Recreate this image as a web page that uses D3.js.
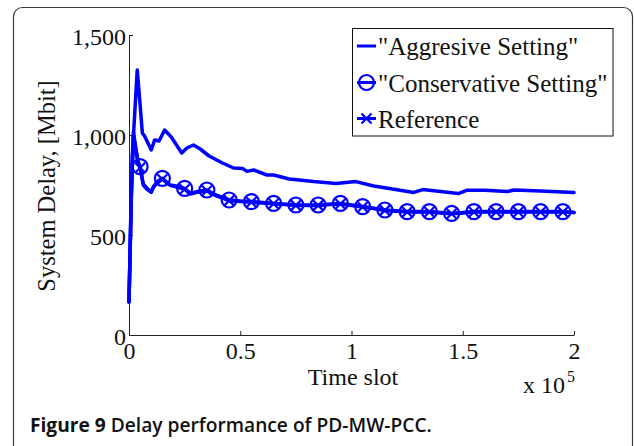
<!DOCTYPE html>
<html>
<head>
<meta charset="utf-8">
<script src="https://cdn.jsdelivr.net/npm/d3@7"></script>
<style>
  html, body { margin: 0; padding: 0; background: #fff; }
  svg { display: block; }
</style>
</head>
<body>
<svg id="chart" width="634" height="446"></svg>
<script>
// ---------- data ----------
const xTicks = [0, 50000, 100000, 150000, 200000];
const xTickLabels = ["0", "0.5", "1", "1.5", "2"];
const yTicks = [0, 500, 1000, 1500];
const yTickLabels = ["0", "500", "1,000", "1,500"];

const seriesNames = ["\"Aggresive Setting\"", "\"Conservative Setting\"", "Reference"];

const aggT = [0, 1500, 3700, 5000, 6000, 7000, 8500, 10000, 11500, 13500, 16000, 19000, 23700, 26000, 29000, 32000, 36000, 42000, 47000, 51000, 53000, 56000, 62000, 65000, 72000, 83000, 93000, 102000, 110000, 117000, 128000, 132000, 140000, 148000, 152000, 160000, 170000, 173000, 185000, 200000];
const aggV = [165, 900, 1325, 1150, 1010, 995, 960, 925, 975, 970, 1025, 990, 910, 935, 950, 930, 895, 860, 835, 833, 818, 825, 800, 800, 780, 767, 758, 767, 745, 733, 713, 727, 717, 707, 724, 724, 717, 725, 720, 713];

const consT = [0, 1000, 2000, 3000, 4000, 5000, 6400, 8000, 10000, 11000, 13000, 15000, 18500, 21000, 25000, 27500, 31000, 35000, 39000, 45000, 50000, 55000, 60000, 65000, 70000, 75000, 80000, 85000, 90000, 95000, 100000, 105000, 110000, 115000, 120000, 125000, 130000, 135000, 140000, 145000, 150000, 155000, 165000, 175000, 185000, 195000, 200000];
const consV = [165, 700, 1015, 940, 870, 842, 755, 735, 717, 742, 770, 783, 750, 745, 733, 708, 718, 725, 700, 675, 670, 667, 662, 658, 654, 650, 650, 650, 654, 658, 650, 642, 634, 625, 621, 617, 617, 617, 612, 608, 612, 617, 617, 617, 617, 617, 613];

const refT = consT;
const refV = [165, 680, 1000, 930, 860, 836, 750, 730, 713, 738, 765, 779, 748, 741, 729, 705, 715, 721, 697, 672, 668, 664, 660, 656, 652, 648, 648, 648, 652, 655, 648, 640, 632, 623, 619, 615, 615, 615, 610, 606, 610, 615, 615, 615, 615, 615, 612];

const markerT = [5000, 15000, 25000, 35000, 45000, 55000, 65000, 75000, 85000, 95000, 105000, 115000, 125000, 135000, 145000, 155000, 165000, 175000, 185000, 195000];

// ---------- layout ----------
const svg = d3.select("#chart");
const blue = "#0000ff";
const serif = "'Liberation Serif', 'Times New Roman', serif";

const x = d3.scaleLinear().domain([0, 200000]).range([129, 574]);
const y = d3.scaleLinear().domain([0, 1500]).range([335, 35]);

// outer frame
svg.append("rect")
  .attr("x", 13.5).attr("y", 7.5)
  .attr("width", 619).attr("height", 520)
  .attr("rx", 9).attr("ry", 9)
  .attr("fill", "none").attr("stroke", "#3a3a3a").attr("stroke-width", 1.2);

// axes
const yAxis = d3.axisLeft(y)
  .tickValues(yTicks)
  .tickFormat((d, i) => yTickLabels[i])
  .tickSize(-4).tickSizeOuter(0).tickPadding(3);
const gy = svg.append("g").attr("transform", "translate(129,0)").call(yAxis);

const xAxis = d3.axisBottom(x)
  .tickValues(xTicks)
  .tickFormat((d, i) => xTickLabels[i])
  .tickSize(-4).tickSizeOuter(0).tickPadding(7);
const gx = svg.append("g").attr("transform", "translate(0,335)").call(xAxis);

[gx, gy].forEach(g => {
  g.attr("font-family", serif).attr("font-size", 24);
  g.selectAll("path.domain").attr("stroke", "#222").attr("stroke-width", 1);
  g.selectAll(".tick line").attr("stroke", "#222").attr("stroke-width", 1);
  g.selectAll(".tick text").attr("fill", "#111");
});
gy.selectAll(".tick text").attr("dy", "0.4em");

// axis titles
svg.append("text")
  .attr("transform", "translate(55,186) rotate(-90)")
  .attr("text-anchor", "middle")
  .attr("font-family", serif).attr("font-size", 24.5).attr("fill", "#111")
  .text("System Delay, [Mbit]");

svg.append("text")
  .attr("x", 353).attr("y", 385)
  .attr("text-anchor", "middle")
  .attr("font-family", serif).attr("font-size", 24).attr("fill", "#111")
  .text("Time slot");

svg.append("text")
  .attr("x", 523).attr("y", 393)
  .attr("font-family", serif).attr("font-size", 24).attr("fill", "#111")
  .text("x 10");
svg.append("text")
  .attr("x", 567).attr("y", 382)
  .attr("font-family", serif).attr("font-size", 16).attr("fill", "#111")
  .text("5");

// lines
const line = d3.line().x(d => x(d[0])).y(d => y(d[1]));
const aggData = aggT.map((t, i) => [t, aggV[i]]);
const consData = consT.map((t, i) => [t, consV[i]]);
const refData = refT.map((t, i) => [t, refV[i]]);

const plot = svg.append("g");
[aggData, consData, refData].forEach(d => {
  plot.append("path").datum(d)
    .attr("d", line)
    .attr("fill", "none").attr("stroke", blue)
    .attr("stroke-width", 3.5).attr("stroke-linejoin", "round").attr("stroke-linecap", "round");
});

const R = 7.5, XS = 5;
function circleMarker(g, cx, cy) {
  g.append("circle").attr("cx", cx).attr("cy", cy).attr("r", R)
    .attr("fill", "none").attr("stroke", blue).attr("stroke-width", 2.2);
}
function xMarker(g, cx, cy) {
  g.append("path")
    .attr("d", `M${cx - XS},${cy - XS}L${cx + XS},${cy + XS}M${cx - XS},${cy + XS}L${cx + XS},${cy - XS}`)
    .attr("fill", "none").attr("stroke", blue).attr("stroke-width", 2.2);
}
markerT.forEach(t => {
  const ci = consT.indexOf(t);
  circleMarker(plot, x(t), y(consV[ci]));
  const ri = refT.indexOf(t);
  xMarker(plot, x(t), y(refV[ri]));
});

// legend
const lg = svg.append("g");
lg.append("rect")
  .attr("x", 352.5).attr("y", 28.5).attr("width", 260.5).attr("height", 107.5)
  .attr("fill", "#fff").attr("stroke", "#111").attr("stroke-width", 1);
const rowY = [46, 82.5, 118.5];
seriesNames.forEach((name, i) => {
  const cy = rowY[i];
  lg.append("line").attr("x1", 357).attr("x2", 376).attr("y1", cy).attr("y2", cy)
    .attr("stroke", blue).attr("stroke-width", 3);
  if (i === 1) circleMarker(lg, 366.5, cy);
  if (i === 2) xMarker(lg, 366.5, cy);
  lg.append("text").attr("x", 378).attr("y", cy + 9)
    .attr("font-family", serif).attr("font-size", 25).attr("fill", "#111")
    .text(name);
});

// caption
const cap = svg.append("text")
  .attr("x", 30).attr("y", 432)
  .attr("font-family", "'Open Sans', 'Noto Sans', sans-serif")
  .attr("font-size", 16).attr("fill", "#111");
cap.append("tspan").attr("font-weight", 700).text("Figure 9");
cap.append("tspan").attr("font-weight", 600).text(" Delay performance of PD-MW-PCC.");
const len = cap.node().getComputedTextLength();
cap.attr("font-size", 16 * 402 / len);
</script>
</body>
</html>
